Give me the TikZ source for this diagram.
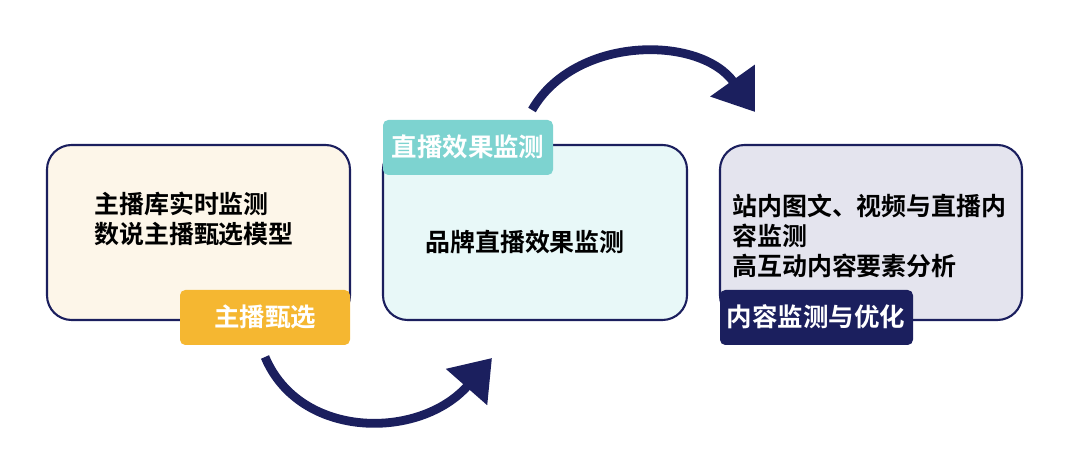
\documentclass[tikz,border=0pt]{standalone}
\usepackage{fontspec}
\usepackage{tikz}
\usetikzlibrary{arrows.meta}
\setmainfont{Noto Sans CJK SC Bold}
\definecolor{navy}{HTML}{1B1F5E}
\definecolor{cream}{HTML}{FDF6E9}
\definecolor{icecyan}{HTML}{E8F8F8}
\definecolor{mist}{HTML}{E4E4EE}
\definecolor{amber}{HTML}{F5B731}
\definecolor{teal}{HTML}{7DD3D0}
\begin{document}
\begin{tikzpicture}[x=0.02cm, y=-0.02cm,
  every node/.style={font=\fontsize{14.2}{17}\selectfont},
  panel/.style={draw=navy, line width=1.2pt, rounded corners=14pt},
  tag/.style={rounded corners=3pt, text=white, font=\fontsize{14.5}{17}\selectfont},
  swing/.style={draw=navy, line width=5pt, -{Triangle[length=22pt,width=30pt]}}]
  \useasboundingbox (0,0) rectangle (1080,469);
  % panels
  \draw[panel, fill=cream] (47,145) rectangle (350,320);
  \draw[panel, fill=icecyan] (383,145) rectangle (687,320);
  \draw[panel, fill=mist] (720,145) rectangle (1022,320);
  % tags
  \fill[amber, rounded corners=3pt] (180,290) rectangle (350,345);
  \node[tag] (pick) at (265,317) {主播甄选};
  \fill[teal, rounded corners=3pt] (383,120) rectangle (553,175);
  \node[tag] (live) at (468,147) {直播效果监测};
  \fill[navy, rounded corners=3pt] (720,290) rectangle (913,345);
  \node[tag] (optim) at (816,317) {内容监测与优化};
  % texts
  \node[anchor=north west, align=left] (anchors) at (88,186) {主播库实时监测\\数说主播甄选模型};
  \node (brand) at (525,242) {品牌直播效果监测};
  \node[anchor=north west, align=left] (media) at (726,188) {站内图文、视频与直播内\\容监测\\高互动内容要素分析};
  % arrows
  \coordinate (a1) at (265,357);
  \coordinate (b1) at (492,358);
  \coordinate (a2) at (532,110);
  \coordinate (b2) at (755,112);
  \draw[swing] (a1) .. controls (300,440) and (420,440) .. (b1);
  \draw[swing] (a2) .. controls (575,35) and (700,35) .. (b2);
\end{tikzpicture}
\end{document}
